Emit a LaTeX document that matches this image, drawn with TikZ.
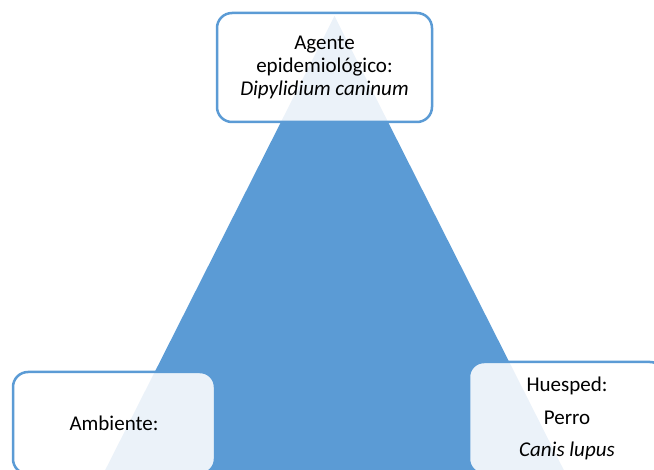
\documentclass[tikz,border=0pt]{standalone}
\usepackage{fontspec}
\setmainfont{Carlito}
\usepackage{tikz}
\usetikzlibrary
  {
    positioning, % place nodes relative to other nodes
  }
\definecolor{triblue}{HTML}{5B9BD5}

\begin{document}
\begin{tikzpicture}
    [
      x=1pt, y=-1pt,
      factor/.style=
        {
          rectangle,
          rounded corners=15pt,
          draw=triblue,
          line width=2.5pt,
          fill=white,
          fill opacity=0.88,
          text opacity=1,
          inner sep=0pt,
          align=center,
          font=\fontsize{21}{23}\selectfont,
        },
    ]
    \useasboundingbox (0,0) rectangle (654,470);
    \clip (0,0) rectangle (654,470);

    % the triangle behind the boxes
    \coordinate (apex)       at (334.5,16);
    \coordinate (base left)  at (82,516);
    \coordinate (base right) at (587,516);
    \fill[triblue] (apex) -- (base left) -- (base right) -- cycle;

    \node[factor, minimum width=215pt, minimum height=109pt]
      (agente)   at (324.5,67.5) {Agente\\epidemiológico:\\\textit{Dipylidium caninum}};
    \node[factor, minimum width=202pt, minimum height=102pt]
      (ambiente) at (114,423)    {Ambiente:};
    \node[factor, minimum width=196pt, minimum height=112pt]
      (huesped)  at (567,418)    {Huesped:\\[10pt]Perro\\[9pt]\textit{Canis lupus}};
  \end{tikzpicture}
\end{document}
